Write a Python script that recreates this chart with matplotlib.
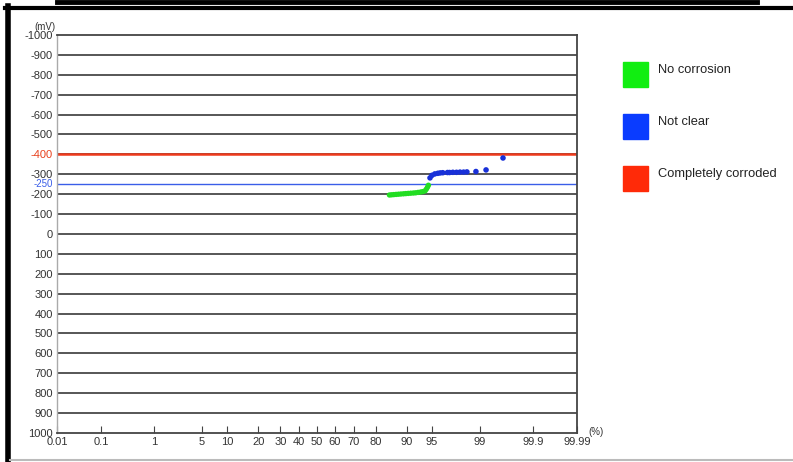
import matplotlib
matplotlib.use("Agg")
import matplotlib.pyplot as plt
import numpy as np
from matplotlib.patches import Rectangle
from matplotlib.lines import Line2D
from statistics import NormalDist

plt.rcParams['font.family'] = ['Liberation Sans', 'DejaVu Sans']

# cumulative probability (%) and potential (mV)
green_p = [85.0, 85.7, 86.4, 87.1, 87.8, 88.5, 89.2, 89.8, 90.4, 91.0,
           91.6, 92.1, 92.6, 93.1, 93.5, 93.9, 94.1, 94.3, 94.45]
green_v = [-196, -197, -198, -199, -200, -201, -202, -203, -204, -205,
           -206, -207, -209, -211, -213, -217, -225, -235, -245]
blue_p = [94.7, 95.0, 95.4, 95.8, 96.1, 96.4, 96.9, 97.1, 97.4, 97.7,
          97.96, 98.2, 98.4, 98.85, 99.22, 99.61]
blue_v = [-282, -295, -302, -305, -307, -308, -309, -309, -310, -310,
          -311, -311, -312, -314, -322, -382]

x_ticks = [0.01, 0.1, 1, 5, 10, 20, 30, 40, 50, 60, 70, 80, 90, 95, 99, 99.9, 99.99]
x_labels = ['0.01', '0.1', '1', '5', '10', '20', '30', '40', '50', '60', '70', '80',
            '90', '95', '99', '99.9', '99.99']
y_grid = list(range(-900, 1000, 100))
y_ticks = list(range(-1000, 1100, 100)) + [-250]

legend_labels = ['No corrosion', 'Not clear', 'Completely corroded']
legend_colors = ['#11ee11', '#0a3cff', '#ff2a08']

nd = NormalDist()
_ppf = np.vectorize(lambda q: nd.inv_cdf(q / 100.0), otypes=[float])
_cdf = np.vectorize(lambda t: nd.cdf(t) * 100.0, otypes=[float])


def fwd(p):
    p = np.clip(np.asarray(p, dtype=float), 1e-7, 100 - 1e-7)
    return _ppf(p)


def inv(z):
    return _cdf(np.asarray(z, dtype=float))


fig = plt.figure(figsize=(7.93, 4.62), dpi=100)
ax = fig.add_axes([57 / 793, 1 - 433 / 462, 520 / 793, 398 / 462])
ax.set_xscale('function', functions=(fwd, inv))
ax.set_xlim(0.01, 99.99)
ax.set_ylim(1000, -1000)

for v in y_grid:
    ax.axhline(v, color='#3a3a3a', lw=1.2, zorder=1)
ax.axhline(-250, color='#3a5ee8', lw=1.0, zorder=2)
ax.axhline(-400, color='#ee3a1c', lw=1.8, zorder=2)

ax.scatter(green_p, green_v, s=15, color='#22dd22', edgecolors='none', zorder=3)
ax.scatter(blue_p, blue_v, s=16, color='#1830d8', edgecolors='none', zorder=3)

ax.set_xticks(x_ticks)
ax.set_xticklabels(x_labels)
ax.set_yticks(y_ticks)
ax.set_yticklabels([str(v) for v in y_ticks])
ax.minorticks_off()
ax.tick_params(axis='x', direction='in', length=5, width=0.8, color='#444444',
               labelsize=8, labelcolor='#333333', pad=3)
ax.tick_params(axis='y', length=0, labelsize=8, labelcolor='#333333', pad=3)
for lab, v in zip(ax.get_yticklabels(), y_ticks):
    lab.set_va('center_baseline')
    if v == -400:
        lab.set_color('#e8401c')
    elif v == -250:
        lab.set_color('#3a5ee8')
        lab.set_fontsize(7)
        lab.set_va('center')

for s in ['top', 'right', 'bottom']:
    ax.spines[s].set_color('#444444')
    ax.spines[s].set_linewidth(1.3)
ax.spines['left'].set_color('#aaaaaa')
ax.spines['left'].set_linewidth(1.0)

fig.text(45 / 793, 1 - 27 / 462, '(mV)', fontsize=7, color='#333333',
         ha='center', va='center')
fig.text(588 / 793, 1 - 432 / 462, '(%)', fontsize=7, color='#333333',
         ha='left', va='center')

# legend boxes
for i, (lab, col) in enumerate(zip(legend_labels, legend_colors)):
    top = 62 + 52 * i
    fig.patches.append(Rectangle((623 / 793, 1 - (top + 25) / 462), 25 / 793, 25 / 462,
                                 transform=fig.transFigure, color=col))
    fig.text(658 / 793, 1 - (top + 8) / 462, lab, fontsize=9.3, color='#222222',
             ha='left', va='center')

# outer frame
fig.lines.append(Line2D([57 / 793, 757 / 793], [1 - 2 / 462] * 2, color='black', lw=3.5,
                        transform=fig.transFigure))
fig.lines.append(Line2D([5 / 793, 1], [1 - 7.5 / 462] * 2, color='black', lw=3,
                        transform=fig.transFigure))
fig.lines.append(Line2D([8 / 793] * 2, [0, 1 - 6 / 462], color='black', lw=4,
                        transform=fig.transFigure))
fig.lines.append(Line2D([10 / 793, 1], [2 / 462] * 2, color='#bbbbbb', lw=1.5,
                        transform=fig.transFigure))

fig.savefig('out.png', dpi=100)
